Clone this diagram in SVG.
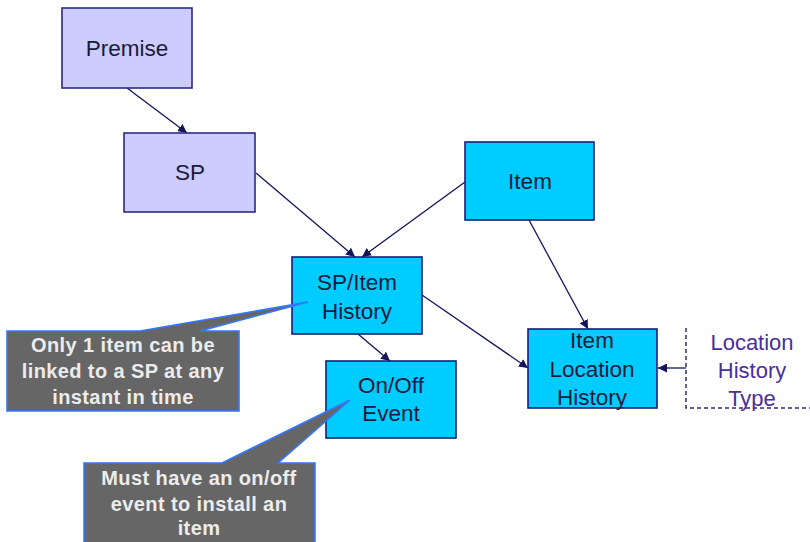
<svg xmlns="http://www.w3.org/2000/svg" width="810" height="542" viewBox="0 0 810 542">
<defs>
<marker id="arr" viewBox="0 0 10 10" refX="10" refY="5" markerWidth="9" markerHeight="9" markerUnits="userSpaceOnUse" orient="auto">
<path d="M0,0 L10,5 L0,10 z" fill="#14145e"/>
</marker>
<style>
.lav{fill:#ccccff;stroke:#2b2b86;stroke-width:1.6}
.cyan{fill:#00ccff;stroke:#1c1c78;stroke-width:1.6}
.nt{font-family:"Liberation Sans",Arial,sans-serif;font-size:22.5px;fill:#1a1a3a;text-anchor:middle}
.lt{font-family:"Liberation Sans",Arial,sans-serif;font-size:22px;fill:#4a2f9a;text-anchor:middle}
.conn{stroke:#14145e;stroke-width:1.3;fill:none;marker-end:url(#arr)}
.call{fill:#666666;stroke:#3377ff;stroke-width:1.6}
.ct{font-family:"Liberation Sans",Arial,sans-serif;font-size:20px;font-weight:bold;letter-spacing:0.4px;fill:#ececec;text-anchor:middle}
.dash{stroke:#2b2b7a;stroke-width:1.5;stroke-dasharray:4,3;fill:none}
</style>
</defs>
<rect width="810" height="542" fill="#ffffff"/>
<g id="connectors">
<line class="conn" x1="127" y1="88" x2="187" y2="133"/>
<line class="conn" x1="256" y1="173" x2="355" y2="257"/>
<line class="conn" x1="465" y1="182" x2="362" y2="257"/>
<line class="conn" x1="529" y1="220" x2="588" y2="329"/>
<line class="conn" x1="422" y1="295" x2="528" y2="368"/>
<line class="conn" x1="358" y1="334" x2="390" y2="361"/>
<line class="conn" x1="686" y1="368" x2="658" y2="368"/>
</g>
<g id="premise">
<rect class="lav" x="62" y="8" width="130" height="80"/>
<text class="nt" x="127" y="56">Premise</text>
</g>
<g id="sp">
<rect class="lav" x="124" y="133" width="131" height="79"/>
<text class="nt" x="190" y="180">SP</text>
</g>
<g id="item">
<rect class="cyan" x="465" y="142" width="129" height="78"/>
<text class="nt" x="530" y="189">Item</text>
</g>
<g id="sp-item-history">
<rect class="cyan" x="292" y="257" width="130" height="77"/>
<text class="nt" x="357" y="290">SP/Item</text>
<text class="nt" x="357" y="319">History</text>
</g>
<g id="on-off-event">
<rect class="cyan" x="326" y="361" width="130" height="77"/>
<text class="nt" x="391" y="393">On/Off</text>
<text class="nt" x="391" y="421">Event</text>
</g>
<g id="item-location-history">
<rect class="cyan" x="528" y="329" width="129" height="79"/>
<text class="nt" x="592" y="348">Item</text>
<text class="nt" x="592" y="377">Location</text>
<text class="nt" x="592" y="405">History</text>
</g>
<g id="location-history-type">
<path class="dash" d="M686,328 L686,408 L810,408"/>
<text class="lt" x="752" y="350">Location</text>
<text class="lt" x="752" y="378">History</text>
<text class="lt" x="752" y="406">Type</text>
</g>
<g id="callout-1">
<path class="call" d="M7,331 L140,331 L308,302 L200,331 L239,331 L239,411 L7,411 Z"/>
<text class="ct" x="123" y="352">Only 1 item can be</text>
<text class="ct" x="123" y="378">linked to a SP at any</text>
<text class="ct" x="123" y="404">instant in time</text>
</g>
<g id="callout-2">
<path class="call" d="M84,463 L222,463 L350,400 L278,463 L315,463 L315,545 L84,545 Z"/>
<text class="ct" x="199" y="485">Must have an on/off</text>
<text class="ct" x="199" y="511">event to install an</text>
<text class="ct" x="199" y="535">item</text>
</g>
</svg>
